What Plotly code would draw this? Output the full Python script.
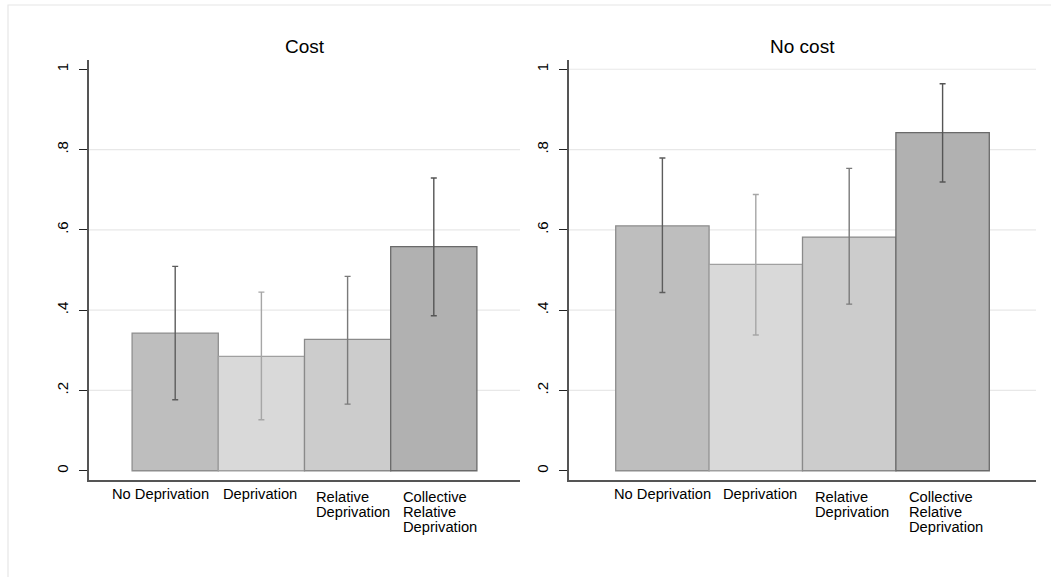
import plotly.graph_objects as go

# Share of participants by condition, with 95% confidence intervals
categories = ["No Deprivation", "Deprivation", "Relative\nDeprivation",
              "Collective\nRelative\nDeprivation"]
panels = ["Cost", "No cost"]

cost_mean = [0.343, 0.285, 0.327, 0.558]
cost_lo = [0.177, 0.127, 0.166, 0.386]
cost_hi = [0.509, 0.445, 0.484, 0.729]

nocost_mean = [0.610, 0.514, 0.582, 0.842]
nocost_lo = [0.444, 0.338, 0.415, 0.719]
nocost_hi = [0.779, 0.688, 0.753, 0.964]

y_ticks = [0, 0.2, 0.4, 0.6, 0.8, 1]
y_tick_text = ["0", ".2", ".4", ".6", ".8", "1"]
grid_cost = [0.2, 0.4, 0.6, 0.8]
grid_nocost = [0.2, 0.4, 0.6, 0.8, 1]

# styling
bar_fill = ["#bebebe", "#d9d9d9", "#cccccc", "#b1b1b1"]
bar_edge = ["#8e8e8e", "#a0a0a0", "#8a8a8a", "#6a6a6a"]
err_col = ["#5c5c5c", "#a6a6a6", "#7a7a7a", "#555555"]
# horizontal nudge of the one-line category labels (in bar widths), per panel
label_nudge = [[-0.17, -0.02], [0.0, 0.05]]

W, H = 1051, 577
FONT = "Liberation Sans, Arial, sans-serif"
LABEL_SIZE = 14.7

fig = go.Figure()

data = [(cost_mean, cost_lo, cost_hi), (nocost_mean, nocost_lo, nocost_hi)]
for p, (mean, lo, hi) in enumerate(data):
    xa = "x" if p == 0 else "x2"
    ya = "y" if p == 0 else "y2"
    for i, m in enumerate(mean):
        fig.add_trace(go.Bar(
            x=[i], y=[m], width=1, xaxis=xa, yaxis=ya,
            marker=dict(color=bar_fill[i], line=dict(color=bar_edge[i], width=1.3)),
            error_y=dict(type="data", symmetric=False,
                         array=[hi[i] - m], arrayminus=[m - lo[i]],
                         color=err_col[i], thickness=1.4, width=3),
            showlegend=False, hoverinfo="skip",
        ))

px = lambda v: v / W
py = lambda v: 1 - v / H

yrange = [-0.023, 1.023]
common_y = dict(range=yrange, tickvals=y_ticks, ticktext=y_tick_text,
                tickangle=-90, ticks="outside", ticklen=8, tickwidth=1,
                tickcolor="#222222", showgrid=False, zeroline=False,
                showline=True, linecolor="#555555", linewidth=1.5,
                ticklabelstandoff=5,
                tickfont=dict(size=15, color="#000000", family=FONT),
                fixedrange=True)
common_x = dict(range=[-1, 4], showticklabels=False, ticks="",
                showgrid=False, zeroline=False, showline=True,
                linecolor="#555555", linewidth=1.5, fixedrange=True)

fig.update_layout(
    width=W, height=H,
    margin=dict(l=0, r=0, t=0, b=0),
    paper_bgcolor="white", plot_bgcolor="white",
    barmode="overlay",
    font=dict(family=FONT, color="#000000"),
    xaxis=dict(domain=[px(89), px(520)], anchor="y", **common_x),
    yaxis=dict(domain=[py(480), py(60)], anchor="x", **common_y),
    xaxis2=dict(domain=[px(569), px(1036)], anchor="y2", **common_x),
    yaxis2=dict(domain=[py(480), py(60)], anchor="x2", **common_y),
)

shapes = []
# light gridlines
for xr, yr, grid in (("x", "y", grid_cost), ("x2", "y2", grid_nocost)):
    for g in grid:
        shapes.append(dict(type="line", xref=xr + " domain", yref=yr,
                           x0=0, x1=1, y0=g, y1=g, layer="below",
                           line=dict(color="#e8e8e8", width=1.2)))
# outer frame of the graph region
shapes.append(dict(type="rect", xref="paper", yref="paper",
                   x0=px(8), x1=1.02, y0=-0.02, y1=py(5),
                   line=dict(color="#e6e6e6", width=1.2), layer="below"))
fig.update_layout(shapes=shapes)

annotations = []
# panel titles
for p, title in enumerate(panels):
    xr = "x domain" if p == 0 else "x2 domain"
    annotations.append(dict(text=title, xref=xr, yref="paper", x=0.5,
                            y=py(47), xanchor="center", yanchor="middle",
                            showarrow=False,
                            font=dict(size=19, color="#000000", family=FONT)))
# category labels under the bars
for p in range(2):
    xr = "x" if p == 0 else "x2"
    yr = "y" if p == 0 else "y2"
    for i, lab in enumerate(categories):
        lines = lab.split("\n")
        if len(lines) == 1:
            annotations.append(dict(text=lines[0], xref=xr, yref=yr,
                                    x=i + label_nudge[p][i], y=0,
                                    xanchor="center", yanchor="middle",
                                    yshift=-23.5, showarrow=False,
                                    font=dict(size=LABEL_SIZE, color="#000000",
                                              family=FONT)))
        else:
            for k, ln in enumerate(lines):
                annotations.append(dict(text=ln, xref=xr, yref=yr, x=i - 0.385, y=0,
                                        xanchor="left", yanchor="middle",
                                        yshift=-26.5 - 15 * k, showarrow=False,
                                        font=dict(size=LABEL_SIZE, color="#000000",
                                                  family=FONT)))
fig.update_layout(annotations=annotations)

fig.write_html("out.html")
